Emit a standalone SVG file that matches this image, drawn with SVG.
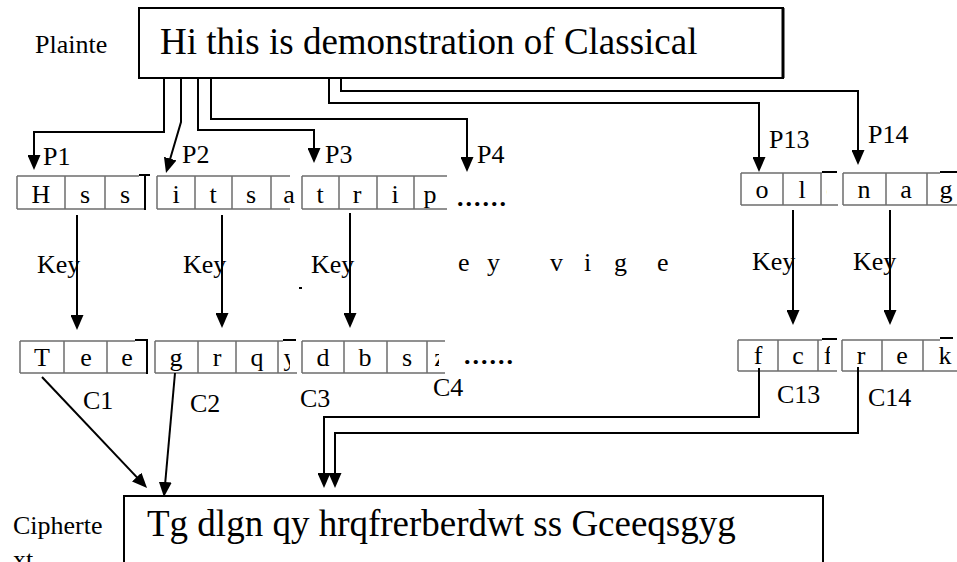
<svg xmlns="http://www.w3.org/2000/svg" width="957" height="562" viewBox="0 0 957 562">
  <style>
    text { font-family: 'Liberation Serif', 'Times New Roman', serif; fill: #000; }
    .big { font-size: 37px; }
    .lbl { font-size: 26px; }
    .cell { font-size: 26px; text-anchor: middle; }
    .dots { font-size: 26px; letter-spacing: 2px; font-weight: bold; }
    .box { fill: #fff; stroke: #000; stroke-width: 2; }
    .grid { fill: none; stroke: #6e6e6e; stroke-width: 1.5; }
    .edge { fill: none; stroke: #000; stroke-width: 2; }
    .conn { fill: none; stroke: #000; stroke-width: 2; }
  </style>
  <defs>
    <marker id="head" viewBox="0 0 15 13" refX="10" refY="6.5" markerWidth="15" markerHeight="13" markerUnits="userSpaceOnUse" orient="auto">
      <path d="M0,0 L15,6.5 L0,13 z" fill="#000"/>
    </marker>
    <clipPath id="cut13"><rect x="815" y="160" width="12" height="60"/></clipPath>
    <clipPath id="cutC2"><rect x="278" y="330" width="12" height="60"/></clipPath>
    <clipPath id="cutC3"><rect x="427" y="330" width="12" height="60"/></clipPath>
    <clipPath id="cutC13"><rect x="818" y="330" width="12" height="60"/></clipPath>
  </defs>

  <rect width="957" height="562" fill="#fff"/>

  <!-- plaintext box -->
  <g id="plaintext">
    <text class="lbl" x="35" y="53">Plainte</text>
    <rect class="box" x="139" y="8" width="644" height="70"/>
    <path d="M783,8 V78" stroke="#000" stroke-width="3"/>
    <text class="big" x="160" y="54">Hi this is demonstration of Classical</text>
  </g>

  <!-- plaintext blocks -->
  <g id="block-p1">
    <path class="grid" d="M17,176 H139 M17,209 H145 M17,176 V209 M65,176 V209 M105,176 V209"/>
    <path class="edge" d="M145,176 V210 M139,175 H150"/>
    <text class="cell" x="41" y="203">H</text>
    <text class="cell" x="85" y="203">s</text>
    <text class="cell" x="125" y="203">s</text>
    <text class="lbl" x="43" y="165">P1</text>
  </g>
  <g id="block-p2">
    <path class="grid" d="M157,176 H290 M157,209 H290 M157,176 V209 M195,176 V209 M232,176 V209 M271,176 V209"/>
    <text class="cell" x="176" y="203">i</text>
    <text class="cell" x="213" y="203">t</text>
    <text class="cell" x="251" y="203">s</text>
    <text class="cell" x="289" y="203">a</text>
    <text class="lbl" x="182" y="163">P2</text>
  </g>
  <g id="block-p3">
    <path class="grid" d="M302,176 H447 M302,209 H447 M302,176 V209 M339,176 V209 M377,176 V209 M414,176 V209"/>
    <text class="cell" x="320" y="203">t</text>
    <text class="cell" x="357" y="203">r</text>
    <text class="cell" x="395" y="203">i</text>
    <text class="cell" x="430" y="203">p</text>
    <text class="lbl" x="325" y="163">P3</text>
    <text class="dots" x="457" y="206">......</text>
  </g>
  <g id="block-p4">
    <text class="lbl" x="477" y="163">P4</text>
  </g>
  <g id="block-p13">
    <path class="grid" d="M741,173 H822 M741,205 H838 M741,173 V205 M783,173 V205 M821,173 V205"/>
    <path class="edge" d="M822,172 H837"/>
    <text class="cell" x="762" y="198">o</text>
    <text class="cell" x="802" y="198">l</text>
    <text class="cell" x="832" y="198" clip-path="url(#cut13)">c</text>
    <text class="lbl" x="769" y="148">P13</text>
  </g>
  <g id="block-p14">
    <path class="grid" d="M843,173 H940 M843,205 H957 M843,173 V205 M886,173 V205 M927,173 V205"/>
    <path class="edge" d="M940,172 H957"/>
    <text class="cell" x="864" y="198">n</text>
    <text class="cell" x="906" y="198">a</text>
    <text class="cell" x="946" y="198">g</text>
    <text class="lbl" x="868" y="143">P14</text>
  </g>

  <!-- key labels -->
  <g id="keys">
    <text class="lbl" x="37" y="273">Key</text>
    <text class="lbl" x="183" y="273">Key</text>
    <text class="lbl" x="311" y="273">Key</text>
    <text class="lbl" x="752" y="270">Key</text>
    <text class="lbl" x="853" y="270">Key</text>
    <text class="lbl" x="458 470 487 510 550 570 584 600 614 640 657" y="271">e y v i g e</text>
    <path d="M299,288 H302" stroke="#000" stroke-width="2"/>
  </g>

  <!-- cipher blocks -->
  <g id="block-c1">
    <path class="grid" d="M20,341 H135 M20,373 H147 M20,341 V373 M64,341 V373 M107,341 V373"/>
    <path class="edge" d="M147,341 V374 M135,340 H148"/>
    <text class="cell" x="42" y="366">T</text>
    <text class="cell" x="86" y="366">e</text>
    <text class="cell" x="127" y="366">e</text>
    <text class="lbl" x="83" y="409">C1</text>
  </g>
  <g id="block-c2">
    <path class="grid" d="M155,341 H283 M155,373 H297 M155,341 V373 M198,341 V373 M236,341 V373 M278,341 V373"/>
    <path class="edge" d="M283,340 H296"/>
    <text class="cell" x="176" y="366">g</text>
    <text class="cell" x="217" y="366">r</text>
    <text class="cell" x="257" y="366">q</text>
    <text class="cell" x="290" y="366" clip-path="url(#cutC2)">y</text>
    <text class="lbl" x="190" y="412">C2</text>
  </g>
  <g id="block-c3">
    <path class="grid" d="M302,341 H445 M302,373 H445 M302,341 V373 M344,341 V373 M387,341 V373 M427,341 V373"/>
    <text class="cell" x="323" y="366">d</text>
    <text class="cell" x="365" y="366">b</text>
    <text class="cell" x="407" y="366">s</text>
    <text class="cell" x="440" y="366" clip-path="url(#cutC3)">z</text>
    <text class="lbl" x="300" y="407">C3</text>
    <text class="dots" x="464" y="364">......</text>
  </g>
  <g id="block-c4">
    <text class="lbl" x="433" y="396">C4</text>
  </g>
  <g id="block-c13">
    <path class="grid" d="M738,340 H822 M738,371 H837 M738,340 V371 M778,340 V371 M818,340 V371"/>
    <path class="edge" d="M822,339 H837"/>
    <text class="cell" x="758" y="364">f</text>
    <text class="cell" x="798" y="364">c</text>
    <text class="cell" x="828" y="364" clip-path="url(#cutC13)">f</text>
    <text class="lbl" x="777" y="403">C13</text>
  </g>
  <g id="block-c14">
    <path class="grid" d="M842,340 H940 M842,371 H957 M842,340 V371 M882,340 V371 M923,340 V371"/>
    <path class="edge" d="M940,338 H953"/>
    <text class="cell" x="861" y="364">r</text>
    <text class="cell" x="902" y="364">e</text>
    <text class="cell" x="945" y="364">k</text>
    <text class="lbl" x="868" y="406">C14</text>
  </g>

  <!-- ciphertext box -->
  <g id="ciphertext">
    <text class="lbl" x="13" y="534">Cipherte</text>
    <text class="lbl" x="13" y="568">xt</text>
    <rect class="box" x="124" y="496" width="699" height="80"/>
    <text class="big" x="147" y="536">Tg dlgn qy hrqfrerberdwt ss Gceeqsgyg</text>
  </g>

  <!-- connectors -->
  <g id="connectors">
    <path class="conn" marker-end="url(#head)" d="M164,78 V132 H34 V165"/>
    <path class="conn" marker-end="url(#head)" d="M181,78 V122 L167.4,168.2"/>
    <path class="conn" marker-end="url(#head)" d="M198,78 V130 H314 V158"/>
    <path class="conn" marker-end="url(#head)" d="M211,78 V119 H467 V167"/>
    <path class="conn" marker-end="url(#head)" d="M329,78 V103 H759 V167"/>
    <path class="conn" marker-end="url(#head)" d="M341,78 V91 H858 V160"/>
    <path class="conn" marker-end="url(#head)" d="M77,215 V325"/>
    <path class="conn" marker-end="url(#head)" d="M222,215 V323"/>
    <path class="conn" marker-end="url(#head)" d="M350,213 V323"/>
    <path class="conn" marker-end="url(#head)" d="M793,210 V320"/>
    <path class="conn" marker-end="url(#head)" d="M890,210 V320"/>
    <path class="conn" marker-end="url(#head)" d="M42,377 L143.6,484.4"/>
    <path class="conn" marker-end="url(#head)" d="M175,373 L164.4,492"/>
    <path class="conn" marker-end="url(#head)" d="M759,368 V417 H324 V483"/>
    <path class="conn" marker-end="url(#head)" d="M858,367 V433 H335 V483"/>
  </g>
</svg>
